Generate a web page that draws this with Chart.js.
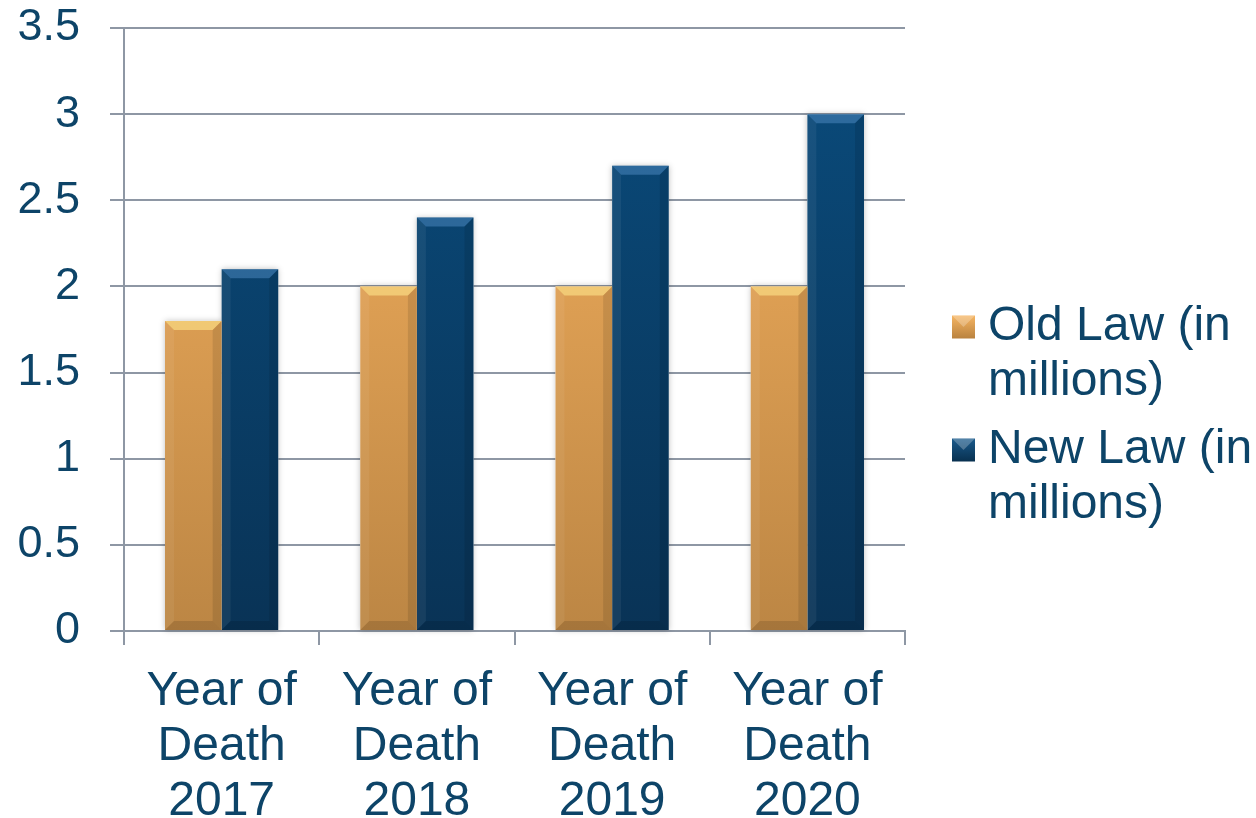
<!DOCTYPE html>
<html>
<head>
<meta charset="utf-8">
<script src="https://cdn.jsdelivr.net/npm/chart.js@4.4.0/dist/chart.umd.min.js"></script>
<style>
  html, body { margin: 0; padding: 0; background: #fff; }
  #wrap { position: relative; width: 1256px; height: 818px; }
  canvas { position: absolute; left: 0; top: 0; }
</style>
</head>
<body>
<div id="wrap"><canvas id="c" width="1256" height="818"></canvas></div>
<script>
const categories = [["Year of", "Death", "2017"], ["Year of", "Death", "2018"], ["Year of", "Death", "2019"], ["Year of", "Death", "2020"]];
const oldLaw = [1.8, 2.0, 2.0, 2.0];
const newLaw = [2.1, 2.4, 2.7, 3.0];
const seriesNames = [["Old Law (in", "millions)"], ["New Law (in", "millions)"]];
const yTicks = [0, 0.5, 1, 1.5, 2, 2.5, 3, 3.5];

const TEXT = '#0D4468';
const GRID = '#8E97A4';
const FONT = '"Liberation Sans", Arial, sans-serif';

function grad(ctx, area, top, bottom) {
  const g = ctx.createLinearGradient(0, area.top, 0, area.bottom);
  g.addColorStop(0, top);
  g.addColorStop(1, bottom);
  return g;
}

const bevel = {
  id: 'bevel',
  beforeDatasetsDraw(chart) {
    const ctx = chart.ctx;
    chart.data.datasets.forEach((ds, di) => {
      const meta = chart.getDatasetMeta(di);
      meta.data.forEach(bar => {
        const l = bar.x - bar.width / 2, r = bar.x + bar.width / 2;
        ctx.save();
        ctx.shadowColor = 'rgba(0,0,0,0.25)';
        ctx.shadowBlur = 6;
        ctx.fillStyle = '#fff';
        ctx.fillRect(l, bar.y, r - l, bar.base - bar.y);
        ctx.restore();
      });
    });
  },
  afterDatasetsDraw(chart) {
    const ctx = chart.ctx;
    chart.data.datasets.forEach((ds, di) => {
      const meta = chart.getDatasetMeta(di);
      meta.data.forEach(bar => {
        const l = bar.x - bar.width / 2, r = bar.x + bar.width / 2;
        const t = bar.y, b = bar.base;
        const d = 9;
        ctx.save();
        ctx.fillStyle = di === 0 ? 'rgba(255,230,140,0.6)' : 'rgba(80,140,195,0.5)';
        ctx.beginPath();
        ctx.moveTo(l, t); ctx.lineTo(r, t); ctx.lineTo(r - d, t + d); ctx.lineTo(l + d, t + d); ctx.closePath();
        ctx.fill();
        ctx.fillStyle = 'rgba(255,255,255,0.06)';
        ctx.beginPath();
        ctx.moveTo(l, t); ctx.lineTo(l + d, t + d); ctx.lineTo(l + d, b - d); ctx.lineTo(l, b); ctx.closePath();
        ctx.fill();
        ctx.fillStyle = 'rgba(0,0,0,0.10)';
        ctx.beginPath();
        ctx.moveTo(r, t); ctx.lineTo(r - d, t + d); ctx.lineTo(r - d, b - d); ctx.lineTo(r, b); ctx.closePath();
        ctx.fill();
        ctx.fillStyle = 'rgba(0,0,0,0.12)';
        ctx.beginPath();
        ctx.moveTo(l, b); ctx.lineTo(l + d, b - d); ctx.lineTo(r - d, b - d); ctx.lineTo(r, b); ctx.closePath();
        ctx.fill();
        ctx.restore();
      });
    });
  }
};

const legendPlugin = {
  id: 'sideLegend',
  afterDraw(chart) {
    const ctx = chart.ctx;
    const items = [
      { y: 327, c1: '#F6B562', c2: '#B9823F' },
      { y: 450, c1: '#1A5A8C', c2: '#08304F' }
    ];
    ctx.save();
    ctx.font = '48px ' + FONT;
    ctx.textBaseline = 'middle';
    ctx.textAlign = 'left';
    items.forEach((it, i) => {
      const x = 952, s = 23, y = it.y - s / 2;
      const g = ctx.createLinearGradient(0, y, 0, y + s);
      g.addColorStop(0, it.c1); g.addColorStop(1, it.c2);
      ctx.fillStyle = g;
      ctx.fillRect(x, y, s, s);
      ctx.fillStyle = 'rgba(255,255,255,0.25)';
      ctx.beginPath(); ctx.moveTo(x, y); ctx.lineTo(x + s, y); ctx.lineTo(x + s / 2, y + s / 2); ctx.closePath(); ctx.fill();
      ctx.fillStyle = TEXT;
      seriesNames[i].forEach((line, li) => {
        ctx.fillText(line, 988, it.y + li * 55);
      });
    });
    ctx.restore();
  }
};

const ctx = document.getElementById('c').getContext('2d');
new Chart(ctx, {
  type: 'bar',
  data: {
    labels: categories,
    datasets: [
      {
        label: seriesNames[0].join(' '),
        data: oldLaw,
        backgroundColor: (c) => c.chart.chartArea ? grad(c.chart.ctx, c.chart.chartArea, '#F7B25F', '#BC8644') : '#E8A456',
        borderWidth: 0
      },
      {
        label: seriesNames[1].join(' '),
        data: newLaw,
        backgroundColor: (c) => c.chart.chartArea ? grad(c.chart.ctx, c.chart.chartArea, '#0A4C7D', '#093356') : '#0A4570',
        borderWidth: 0
      }
    ]
  },
  options: {
    responsive: false,
    animation: false,
    devicePixelRatio: 1,
    layout: { padding: { left: 0, right: 351, top: 0, bottom: 0 } },
    plugins: {
      legend: { display: false },
      tooltip: { enabled: false }
    },
    datasets: { bar: { categoryPercentage: 0.58, barPercentage: 1.0 } },
    scales: {
      x: {
        offset: true,
        grid: { display: true, drawOnChartArea: false, offset: true, color: GRID, lineWidth: 2, tickLength: 14 },
        border: { display: true, color: GRID, width: 2 },
        ticks: { color: TEXT, font: { family: FONT, size: 48, lineHeight: 1.15 }, padding: 19, maxRotation: 0, autoSkip: false },
        afterFit(s) { s.height = 187; }
      },
      y: {
        min: 0, max: 3.5,
        afterBuildTicks(s) { s.ticks = yTicks.map(v => ({ value: v })); },
        grid: { color: GRID, lineWidth: 2, tickLength: 14 },
        border: { display: true, color: GRID, width: 2 },
        ticks: { color: TEXT, font: { family: FONT, size: 45 }, padding: 30, callback: v => String(v) },
        afterFit(s) { s.width = 124; s.paddingTop = 28; s.paddingBottom = 20; }
      }
    }
  },
  plugins: [bevel, legendPlugin]
});
</script>
</body>
</html>
